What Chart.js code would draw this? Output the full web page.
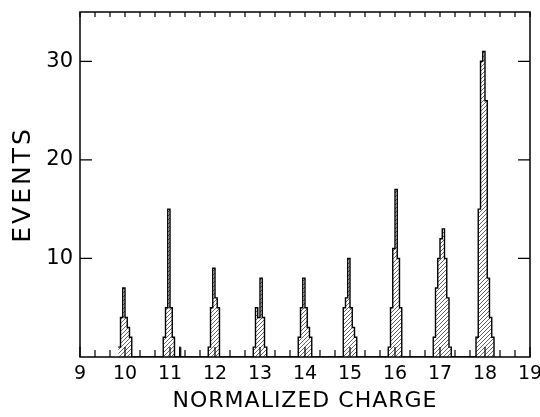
<!DOCTYPE html>
<html>
<head>
<meta charset="utf-8">
<script src="https://cdn.jsdelivr.net/npm/chart.js@4.4.0/dist/chart.umd.min.js"></script>
<style>
html,body{margin:0;padding:0;background:#fff;}
#wrap{width:540px;height:417px;}
</style>
</head>
<body>
<div id="wrap"><canvas id="c" width="540" height="417"></canvas></div>
<script>
// ---- data ----
const binWidth = 0.05;
const peakStarts = [9.85, 10.85, 11.85, 12.85, 13.85, 14.85, 15.85, 16.85, 17.80];
const peak10 = [1, 4, 7, 4, 3, 2];
const peak11 = [2, 5, 15, 5, 2];
const peak12 = [1, 5, 9, 6, 5];
const peak13 = [1, 5, 4, 8, 4, 1];
const peak14 = [2, 5, 8, 5, 3, 2];
const peak15 = [5, 6, 10, 5, 3, 2];
const peak16 = [1, 5, 11, 17, 10, 5];
const peak17 = [2, 7, 10, 12, 13, 10, 6, 1];
const peak18 = [2, 15, 30, 31, 26, 8, 4, 2];
const strayCharge = [11.2];
const strayEvents = [1];
const strayWidth = 0.04;
const xTickLabels = [9, 10, 11, 12, 13, 14, 15, 16, 17, 18, 19];
const yTickLabels = [10, 20, 30];

const peaks = [peak10, peak11, peak12, peak13, peak14, peak15, peak16, peak17, peak18];

// build stepped histogram outline points
const histPoints = [];
peaks.forEach((counts, p) => {
  const s = peakStarts[p];
  counts.forEach((c, i) => histPoints.push({x: s + i * binWidth, y: c}));
  histPoints.push({x: s + counts.length * binWidth, y: 0});
});
const strayPoints = [];
strayCharge.forEach((x, i) => {
  strayPoints.push({x: x, y: strayEvents[i]});
  strayPoints.push({x: x + strayWidth, y: 0});
});

const pattern = document.getElementById('c').getContext('2d').createPattern((function(){
  const c = document.createElement('canvas');
  c.width = 4; c.height = 4;
  const g = c.getContext('2d');
  g.strokeStyle = '#555';
  g.lineWidth = 0.9;
  g.beginPath();
  g.moveTo(-1, 5); g.lineTo(5, -1);
  g.stroke();
  return c;
})(), 'repeat');

const FONT = "'DejaVu Sans', sans-serif";

function spacedTitle(spacing) {
  return function(s) {
    if (s._spaced) return;
    const orig = s.drawTitle.bind(s);
    s.drawTitle = function() {
      const c = this.ctx;
      const prev = c.letterSpacing;
      c.letterSpacing = spacing;
      orig();
      c.letterSpacing = prev;
    };
    s._spaced = true;
  };
}

const framePlugin = {
  id: 'frame',
  beforeDraw(chart) { chart.ctx.letterSpacing = '0px'; },
  afterDatasetsDraw(chart) {
    const {ctx, chartArea: a, scales: {x, y}} = chart;
    ctx.save();
    ctx.strokeStyle = '#000';
    ctx.lineWidth = 1.5;
    ctx.strokeRect(a.left, a.top, a.right - a.left, a.bottom - a.top);
    ctx.lineWidth = 1.2;
    ctx.beginPath();
    for (let k = 27; k <= 57; k++) {
      const px = x.getPixelForValue(k / 3);
      const major = k % 3 === 0;
      ctx.moveTo(px, a.bottom);
      ctx.lineTo(px, a.bottom - (major ? 10 : 7));
      ctx.moveTo(px, a.top);
      ctx.lineTo(px, a.top + 5);
    }
    yTickLabels.forEach(v => {
      const py = y.getPixelForValue(v);
      ctx.moveTo(a.left, py); ctx.lineTo(a.left + 12, py);
      ctx.moveTo(a.right, py); ctx.lineTo(a.right - 12, py);
    });
    ctx.stroke();
    ctx.restore();
  }
};

new Chart(document.getElementById('c'), {
  type: 'line',
  data: {
    datasets: [
      {
        data: histPoints,
        stepped: 'before',
        borderColor: '#000',
        borderWidth: 1.4,
        backgroundColor: pattern,
        fill: 'origin',
        pointRadius: 0
      },
      {
        data: strayPoints,
        stepped: 'before',
        borderColor: '#000',
        borderWidth: 1,
        backgroundColor: '#000',
        fill: 'origin',
        pointRadius: 0
      }
    ]
  },
  options: {
    responsive: false,
    animation: false,
    devicePixelRatio: 1,
    layout: {padding: {top: 12, right: 10, left: 0, bottom: 0}},
    plugins: {legend: {display: false}, tooltip: {enabled: false}},
    scales: {
      x: {
        type: 'linear',
        min: 9, max: 19,
        afterFit(s) { s.height = 60; s.paddingLeft = 0; s.paddingRight = 0; },
        afterUpdate: spacedTitle('1px'),
        afterBuildTicks(s) { s.ticks = xTickLabels.map(v => ({value: v})); },
        grid: {display: false, drawTicks: false},
        border: {display: false},
        ticks: {
          color: '#000', padding: 6, maxRotation: 0, autoSkip: false,
          font: {family: FONT, size: 19},
          callback: v => String(v)
        },
        title: {
          display: true, text: 'NORMALIZED CHARGE', color: '#000',
          font: {family: FONT, size: 22},
          padding: {top: 0, bottom: 3}
        }
      },
      y: {
        type: 'linear',
        min: 0, max: 35,
        afterFit(s) { s.width = 80; s.paddingTop = 0; s.paddingBottom = 0; },
        afterUpdate: spacedTitle('3px'),
        afterBuildTicks(s) { s.ticks = yTickLabels.map(v => ({value: v})); },
        grid: {display: false, drawTicks: false},
        border: {display: false},
        ticks: {
          color: '#000', padding: 7,
          font: {family: FONT, size: 21},
          callback: v => String(v)
        },
        title: {
          display: true, text: 'EVENTS', color: '#000',
          font: {family: FONT, size: 25},
          padding: {top: 8, bottom: 0}
        }
      }
    }
  },
  plugins: [framePlugin]
});
</script>
</body>
</html>
